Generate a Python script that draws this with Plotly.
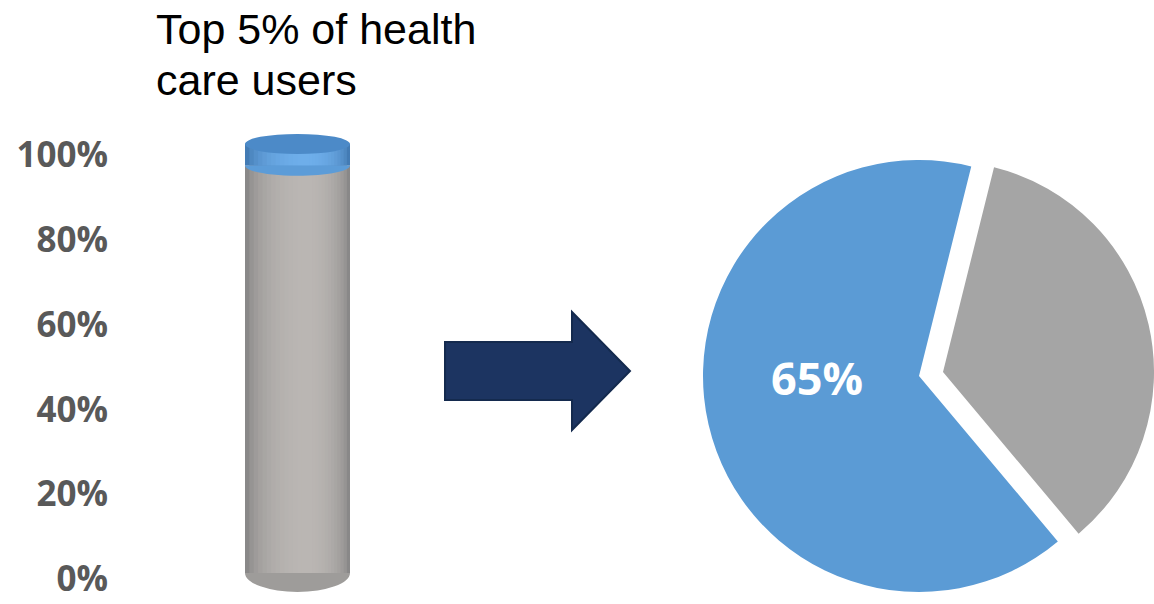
import plotly.graph_objects as go

# ---------------- data ----------------
bar_labels = ["Other 95% of health care users", "Top 5% of health care users"]
bar_values = [95, 5]            # share of users (cylinder, stacked)
pie_labels = ["Top 5% of health care users", "Other 95% of health care users"]
pie_values = [65, 35]           # share of health care spending
tick_vals = [0, 20, 40, 60, 80, 100]
tick_text = ["0%", "20%", "40%", "60%", "80%", "100%"]
title_lines = ["Top 5% of health", "care users"]

# ---------------- helpers ----------------
W, H = 1154, 604


def px(x):
    return x / W


def py(y):
    return 1 - y / H


def rgb(c):
    return "rgb(%d,%d,%d)" % tuple(int(round(v)) for v in c)


def mix(a, b, t):
    return tuple(x + (y - x) * t for x, y in zip(a, b))


GRAY_EDGE = (120, 120, 120)
GRAY_HI = (186, 182, 179)
BLUE_EDGE = (52, 104, 160)
BLUE_HI = (110, 174, 234)
BLUE_TOP = (76, 138, 200)
PIE_BLUE = "#5B9BD5"
PIE_GRAY = "#A5A5A5"

fig = go.Figure()

# invisible trace carrying the percentage axis
fig.add_trace(go.Scatter(x=[0] * len(tick_vals), y=tick_vals, mode="markers",
                         marker=dict(opacity=0), hoverinfo="skip",
                         showlegend=False, xaxis="x", yaxis="y"))

# ---------------- cylinder (stacked bar with shading strips) ----------------
K = 14
HIGHLIGHT = 0.58
segments = [
    (0, bar_values[0], GRAY_EDGE, GRAY_HI, bar_labels[0]),
    (bar_values[0], bar_values[1], BLUE_EDGE, BLUE_HI, bar_labels[1]),
]
for base, val, edge, hi, name in segments:
    for k in range(K):
        f = k / K
        a = HIGHLIGHT * f
        b = 1 - (1 - HIGHLIGHT) * f
        t = (1 - (1 - (k + 0.5) / K) ** 2) ** 0.5
        fig.add_trace(go.Bar(
            x=[0], y=[val], base=[base], width=[b - a], offset=[a - 0.5],
            marker=dict(color=rgb(mix(edge, hi, t)), line=dict(width=0)),
            name=name, showlegend=False, xaxis="x", yaxis="y2",
            hovertemplate=name + ": %{y}%<extra></extra>"))

# cylinder caps (3D decoration tied to the data values)
top_val = sum(bar_values)
h_top = 2.35
h_mid = 2.4
h_bot = 4.4
kk = 0.5523
y0 = bar_values[0]
shapes = [
    dict(type="circle", xref="x", yref="y2", x0=-0.5, x1=0.5,
         y0=-h_bot, y1=h_bot, fillcolor=rgb((158, 156, 154)),
         line=dict(width=0), layer="below"),
    dict(type="path", xref="x", yref="y2",
         path=(f"M -0.5,{y0} C -0.5,{y0 - kk * h_mid} {-kk * 0.5},{y0 - h_mid} 0,{y0 - h_mid} "
               f"C {kk * 0.5},{y0 - h_mid} 0.5,{y0 - kk * h_mid} 0.5,{y0} Z"),
         fillcolor=rgb((92, 156, 216)), line=dict(width=0), layer="above"),
    dict(type="circle", xref="x", yref="y2", x0=-0.5, x1=0.5,
         y0=top_val - h_top, y1=top_val + h_top, fillcolor=rgb(BLUE_TOP),
         line=dict(width=0), layer="above"),
]

# arrow
arrow_pts = [(445, 342), (572, 342), (572, 312), (630, 371),
             (572, 430), (572, 400), (445, 400)]
arrow_path = "M " + " L ".join(f"{px(x):.5f},{py(y):.5f}" for x, y in arrow_pts) + " Z"
shapes.append(dict(type="path", xref="paper", yref="paper", path=arrow_path,
                   fillcolor="#1C3461", line=dict(color="#142A4E", width=2),
                   layer="above"))

# ---------------- pie (exploded slice drawn as two traces) ----------------
fig.add_trace(go.Pie(
    labels=pie_labels, values=pie_values, sort=False, direction="clockwise",
    rotation=140, textinfo="none", showlegend=False,
    marker=dict(colors=[PIE_BLUE, "rgba(0,0,0,0)"], line=dict(width=0)),
    domain=dict(x=[px(703), px(1135)], y=[py(592), py(160)])))
fig.add_trace(go.Pie(
    labels=pie_labels, values=pie_values, sort=False, direction="clockwise",
    rotation=140, textinfo="none", showlegend=False,
    marker=dict(colors=["rgba(0,0,0,0)", PIE_GRAY], line=dict(width=0)),
    domain=dict(x=[px(732), 1.0], y=[py(583), py(161)])))

title_font = dict(family="Liberation Sans, Arial", size=43, color="#000000")
annotations = [
    dict(text=title_lines[0], x=px(154), y=py(29), xref="paper", yref="paper",
         xanchor="left", yanchor="middle", showarrow=False, font=title_font),
    dict(text=title_lines[1], x=px(154), y=py(80), xref="paper", yref="paper",
         xanchor="left", yanchor="middle", showarrow=False, font=title_font),
    dict(text=f"{pie_values[0]}%", x=px(817), y=py(377), xref="paper", yref="paper",
         xanchor="center", yanchor="middle", showarrow=False,
         font=dict(family="Open Sans", size=45, color="#FFFFFF", weight="bold")),
]

# y mapping: tick axis 0 -> 579px, 100 -> 155px ; cylinder axis 0 -> 573px, 100 -> 144px
T0, T100 = 579, 155
tick_ppu = (T0 - T100) / 100
cyl_ppu = (573 - 144) / 100

fig.update_layout(
    width=W, height=H, margin=dict(l=0, r=0, t=0, b=0, autoexpand=False),
    paper_bgcolor="white", plot_bgcolor="white",
    barmode="overlay", showlegend=False,
    xaxis=dict(domain=[px(240), px(355)], range=[-0.5 - 5 / 105, 0.5 + 5 / 105],
               visible=False, fixedrange=True, automargin=False),
    yaxis=dict(domain=[0, 1], anchor="free", position=px(108),
               range=[-(H - T0) / tick_ppu, 100 + T100 / tick_ppu],
               tickvals=tick_vals, ticktext=tick_text, ticks="",
               ticklabeloverflow="allow", automargin=False,
               showgrid=False, zeroline=False, showline=False, fixedrange=True,
               tickfont=dict(family="Open Sans", size=35, color="#595959", weight="bold")),
    yaxis2=dict(overlaying="y", range=[-(H - 573) / cyl_ppu, 100 + 144 / cyl_ppu],
                visible=False, fixedrange=True, automargin=False),
    shapes=shapes, annotations=annotations,
)

fig.write_html("out.html", config={"displayModeBar": False},
               post_script="document.body.style.margin='0';document.body.style.overflow='hidden';")
